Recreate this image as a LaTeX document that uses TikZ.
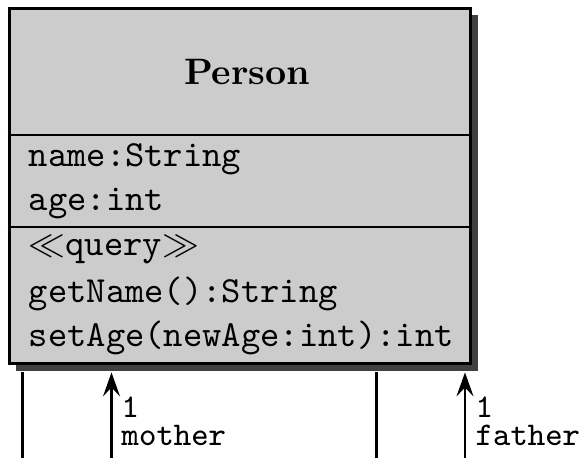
\documentclass[tikz,border=0pt]{standalone}
\usepackage{amsmath}
\usetikzlibrary{arrows.meta,shadows}

\begin{document}
\begin{tikzpicture}[x=0.2717pt,y=-0.2717pt,
        classbox/.style={draw,line width=0.8pt,fill=black!20,minimum width=125.5pt,minimum height=96.7pt,
            drop shadow={shadow xshift=1.9pt,shadow yshift=-1.9pt,fill=black!75,opacity=1}},
        member/.style={anchor=base west,inner sep=0pt,font=\ttfamily},
        role/.style={anchor=base west,inner sep=0pt,font=\ttfamily\fontsize{9}{10}\selectfont},
        assoc/.style={line width=0.7pt,-{Stealth[length=6.5pt,width=4.6pt,inset=2.4pt]}}]
        \useasboundingbox (0,0) rectangle (582,458);
        \node[classbox] (person) at (240,186) {};
        \node[anchor=base,inner sep=0pt,font=\bfseries] (title) at (247,85) {Person};
        \coordinate (sepa) at (0,135);
        \coordinate (sepb) at (0,227);
        \draw[line width=0.6pt] (person.west |- sepa) -- (person.east |- sepa);
        \draw[line width=0.6pt] (person.west |- sepb) -- (person.east |- sepb);
        \node[member] (attname) at (28,167) {name:String};
        \node[member] (attage) at (28,210.5) {age:int};
        \node[member] (stereo) at (28,256) {$\ll$query$\gg$};
        \node[member] (opget) at (28,303) {getName():String};
        \node[member] (opset) at (28,347) {setAge(newAge:int):int};
        \coordinate (shadowbase) at ([yshift=-1.9pt]person.south);
        \coordinate (lfoot) at (22.5,458);
        \coordinate (mfoot) at (111.5,458);
        \coordinate (rfoot) at (376.5,458);
        \coordinate (ffoot) at (465,458);
        \draw[line width=0.7pt] (lfoot) -- (lfoot |- shadowbase);
        \draw[line width=0.7pt] (rfoot) -- (rfoot |- shadowbase);
        \draw[assoc] (mfoot) -- (mfoot |- shadowbase);
        \draw[assoc] (ffoot) -- (ffoot |- shadowbase);
        \node[role] (mmult) at (121,418) {1};
        \node[role] (mname) at (121,446) {mother};
        \node[role] (fmult) at (475,418) {1};
        \node[role] (fname) at (475,446) {father};
    \end{tikzpicture}
\end{document}
